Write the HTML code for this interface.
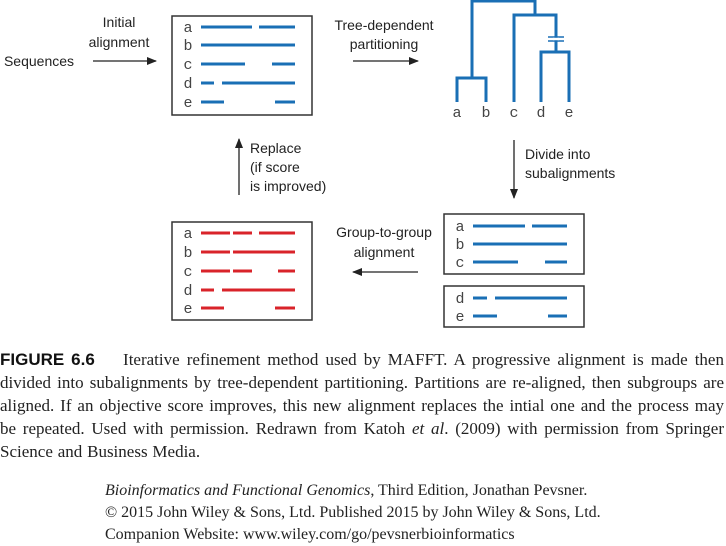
<!DOCTYPE html>
<html><head><style>
body{margin:0;width:726px;height:546px;background:#fff;position:relative;overflow:hidden}
.cap{position:absolute;left:0;top:348px;width:724px;font:17px/23px "Liberation Serif",serif;word-spacing:0.6px;color:#222;text-align:justify}
.cap b{font-family:"Liberation Sans",sans-serif;font-size:17px;color:#111;word-spacing:0}
.cred{position:absolute;left:105px;top:480px;font:16px/22px "Liberation Serif",serif;color:#222}
svg .mono text{font-family:"Liberation Mono","Courier New","DejaVu Sans Mono",monospace !important}
</style></head><body>
<svg width="726" height="340" style="position:absolute;left:0;top:0;font-family:'Liberation Sans',sans-serif">
<defs><marker id="ah" markerWidth="10" markerHeight="8" refX="9" refY="4" orient="auto" markerUnits="userSpaceOnUse"><path d="M0,0 L10,4 L0,8 z" fill="#222"/></marker></defs>
<g font-size="14" fill="#222" text-anchor="middle">
<text x="39" y="66">Sequences</text>
<text x="119" y="27">Initial</text><text x="119" y="47">alignment</text>
<text x="384" y="30">Tree-dependent</text><text x="384" y="49">partitioning</text>
<text x="384" y="237">Group-to-group</text><text x="384" y="257">alignment</text>
<text x="250" y="153" text-anchor="start">Replace</text><text x="250" y="172" text-anchor="start">(if score</text><text x="250" y="191" text-anchor="start">is improved)</text>
<text x="525" y="159" text-anchor="start">Divide into</text><text x="525" y="178" text-anchor="start">subalignments</text>
</g>
<g stroke="#222" stroke-width="1.3" marker-end="url(#ah)">
<line x1="93" y1="61" x2="156" y2="61"/>
<line x1="353" y1="61" x2="418" y2="61"/>
<line x1="418" y1="272" x2="353" y2="272"/>
<line x1="239" y1="195" x2="239" y2="139"/>
<line x1="514" y1="140" x2="514" y2="198"/>
</g>
<g fill="none" stroke="#333" stroke-width="1.5">
<rect x="172" y="16" width="140" height="99"/>
<rect x="172" y="222" width="140" height="98"/>
<rect x="444" y="214" width="140" height="60"/>
<rect x="444" y="286" width="140" height="41"/>
</g>
<g class="mono" font-size="15" fill="#444" text-anchor="middle">
<text x="188" y="32">a</text><text x="188" y="50">b</text><text x="188" y="69">c</text><text x="188" y="88">d</text><text x="188" y="107">e</text>
<text x="188" y="238">a</text><text x="188" y="257">b</text><text x="188" y="276">c</text><text x="188" y="295">d</text><text x="188" y="313">e</text>
<text x="460" y="231">a</text><text x="460" y="249">b</text><text x="460" y="267">c</text>
<text x="460" y="303">d</text><text x="460" y="321">e</text>
<text x="457" y="117">a</text><text x="486" y="117">b</text><text x="514" y="117">c</text><text x="541" y="117">d</text><text x="569" y="117">e</text>
</g>
<g stroke="#1a6fb5" stroke-width="3">
<path d="M201 27H252M259 27H295M201 45H295M201 64H245M272 64H295M201 83H214M222 83H295M201 102H224M275 102H295"/>
<path d="M473 226H525M532 226H567M473 244H567M473 262H518M545 262H567M473 298H487M495 298H567M473 316H497M548 316H567"/>
<path fill="none" d="M457 102V78H486V102M472 78V1H535V15M514 102V15H556V52M541 102V52H569V102"/>
</g>
<g stroke="#1a6fb5" stroke-width="1.5"><path d="M548 37H564M548 41H564"/></g>
<rect x="553" y="37.8" width="6" height="2.4" fill="#fff"/>
<g stroke="#d9232a" stroke-width="3">
<path d="M201 233H230M233 233H252M259 233H295M201 252H230M233 252H295M201 271H230M233 271H252M278 271H295M201 290H214M222 290H295M201 308H224M275 308H295"/>
</g>
</svg>
<div class="cap"><b>FIGURE 6.6</b>&nbsp;&nbsp;&nbsp; Iterative refinement method used by MAFFT. A progressive alignment is made then divided into subalignments by tree-dependent partitioning. Partitions are re-aligned, then subgroups are aligned. If an objective score improves, this new alignment replaces the intial one and the process may be repeated. Used with permission. Redrawn from Katoh <i>et al</i>. (2009) with permission from Springer Science and Business Media.</div>
<div class="cred"><i>Bioinformatics and Functional Genomics</i>, Third Edition, Jonathan Pevsner.<br>© 2015 John Wiley &amp; Sons, Ltd. Published 2015 by John Wiley &amp; Sons, Ltd.<br>Companion Website: www.wiley.com/go/pevsnerbioinformatics</div>
</body></html>
